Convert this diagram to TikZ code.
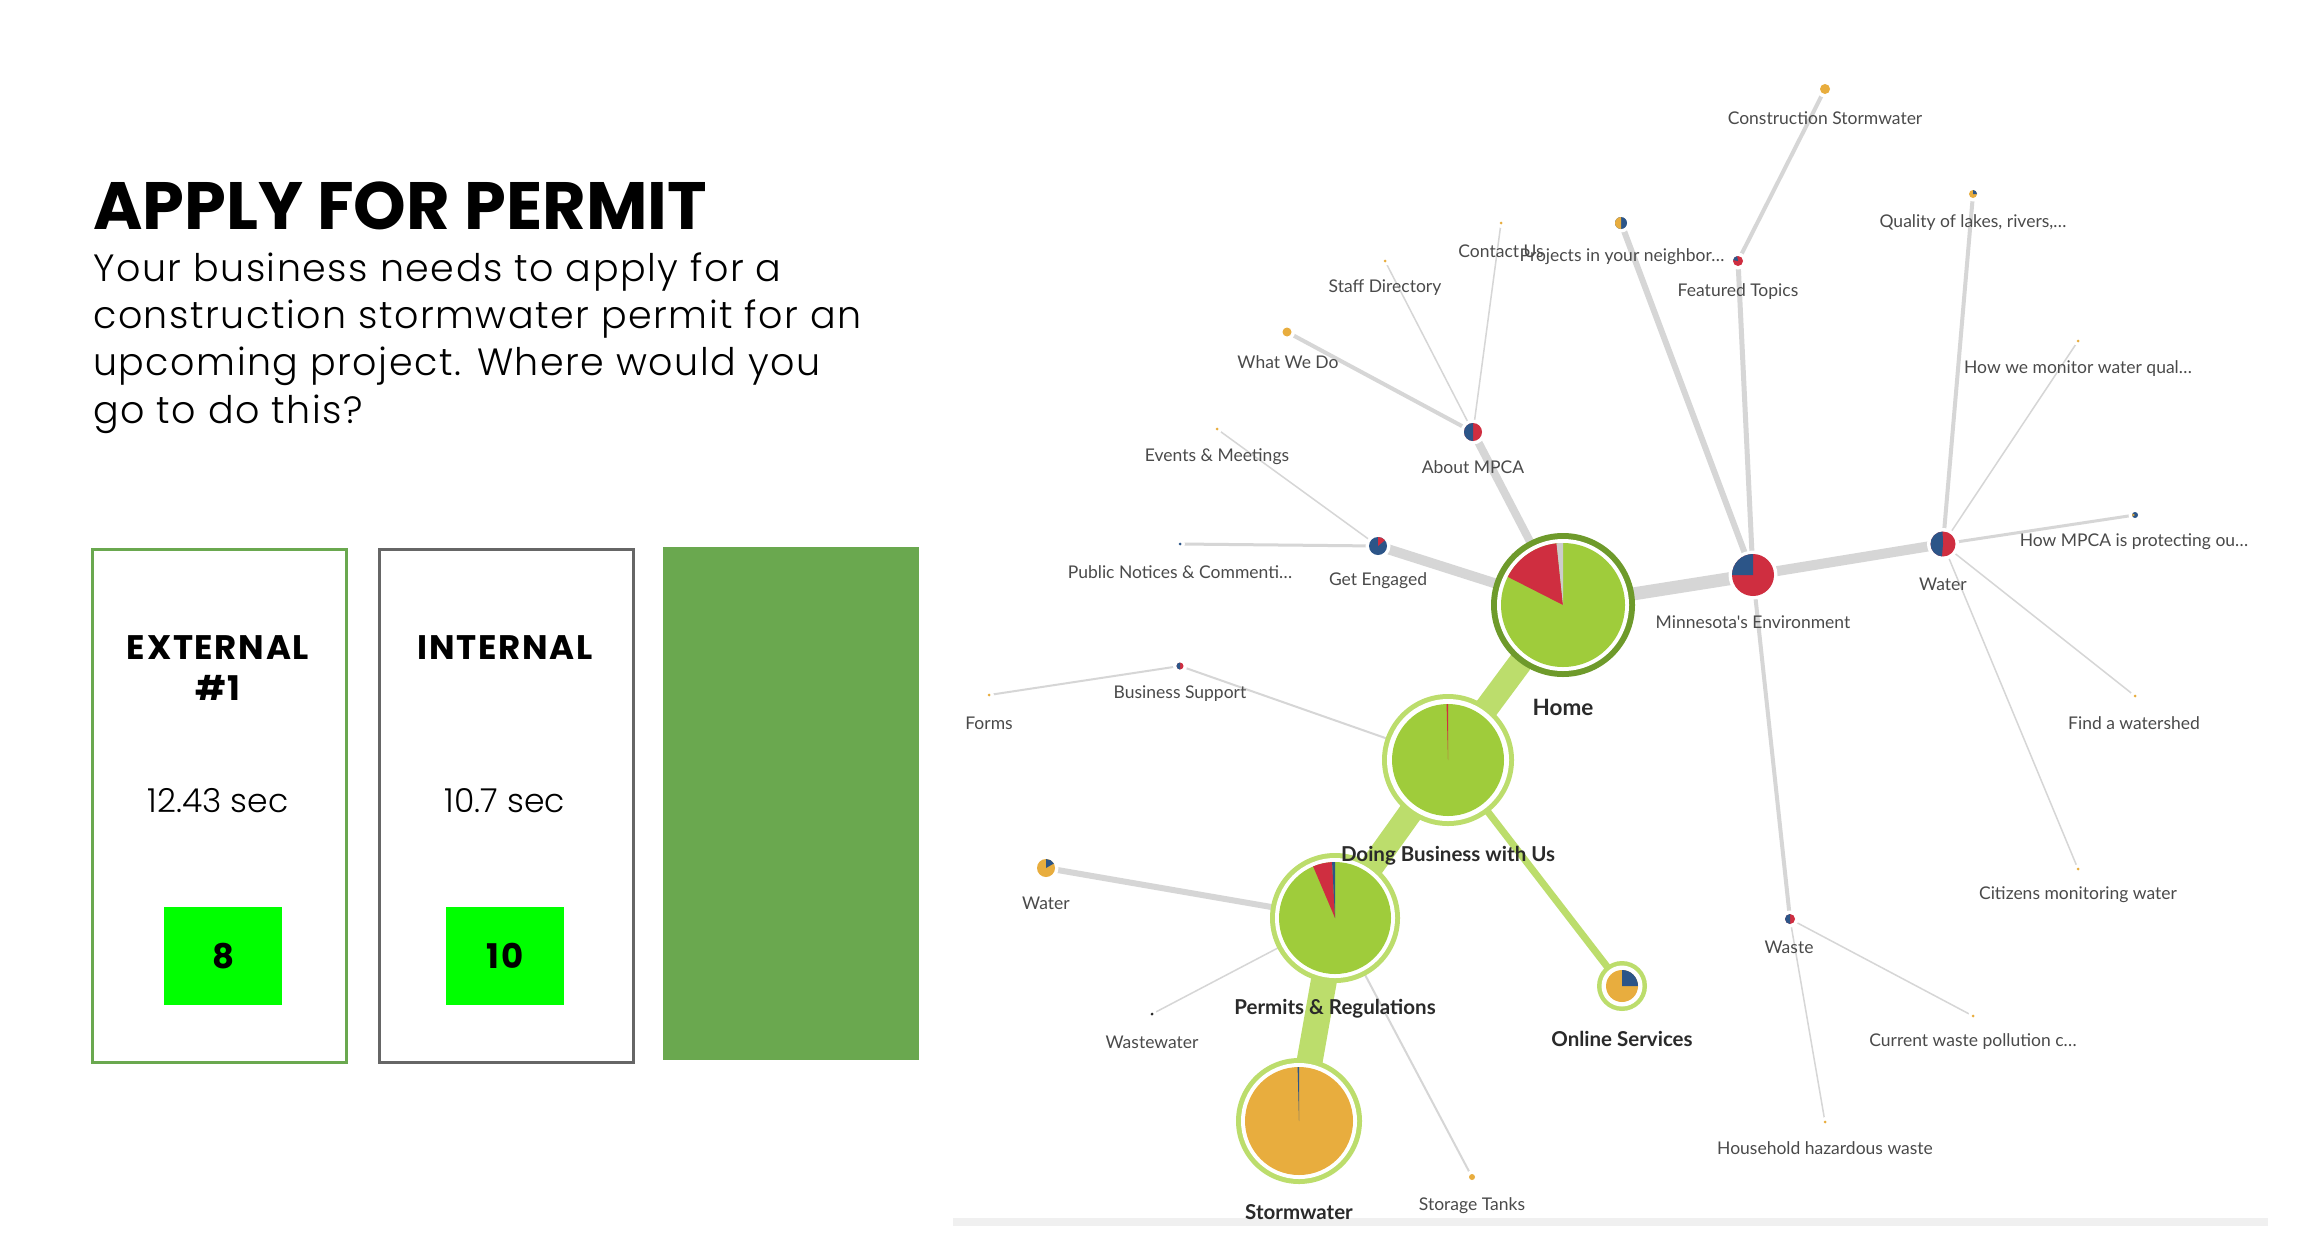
\documentclass[tikz,border=0pt]{standalone}
\usepackage{fontspec}
\setmainfont{Poppins}
\newfontfamily\lightfont{Poppins Light}
\newfontfamily\labfont{Lato}
\definecolor{boxgreen}{HTML}{6AA84F}
\definecolor{boxgray}{HTML}{666666}
\definecolor{limeg}{HTML}{00FF00}
\definecolor{pgreen}{HTML}{9FCC3B}
\definecolor{rgreen}{HTML}{BCDD6C}
\definecolor{dgreen}{HTML}{6E9A2B}
\definecolor{pred}{HTML}{CF2E40}
\definecolor{pblue}{HTML}{2C5588}
\definecolor{porange}{HTML}{E8AD3E}
\definecolor{egray}{HTML}{D6D6D6}
\definecolor{ltxt}{HTML}{4A4A4A}
\definecolor{btxt}{HTML}{2A2A2A}
\definecolor{pgray}{HTML}{CCCCCC}
\definecolor{framegray}{HTML}{F0F0F0}
\newcommand\pslice[5]{\fill[#5] (#1) -- ++(-#3:#2) arc[start angle=-#3, end angle=-#4, radius=#2] -- cycle;}
\newcommand\dotnode[3]{\fill[white] (#1) circle[radius=#2+3.5]; \fill[#3] (#1) circle[radius=#2];}
\newcommand\bignode[5]{\fill[#5] (#1) circle[radius=#2]; \fill[white] (#1) circle[radius=#3]; \fill[pgreen] (#1) circle[radius=#4];}
\tikzset{
  lbl/.style={font=\labfont\fontsize{17.5}{20}\selectfont, text=ltxt, inner sep=0},
  blbl/.style={font=\labfont\bfseries\fontsize{20.5}{24}\selectfont, text=btxt, inner sep=0},
  gedge/.style={draw=egray},
  grnedge/.style={draw=rgreen},
  boxtitle/.style={font=\bfseries\fontsize{34}{40}\selectfont\addfontfeature{LetterSpace=5}, inner sep=0},
  boxval/.style={font=\lightfont\fontsize{33}{36}\selectfont, inner sep=0},
  bodytxt/.style={font=\lightfont\fontsize{38}{47}\selectfont\addfontfeature{LetterSpace=4}, anchor=base west, inner sep=0}
}
\begin{document}
\begin{tikzpicture}[x=1pt,y=-1pt]
\useasboundingbox (0,0) rectangle (2317,1256);
\fill[white] (0,0) rectangle (2317,1256);

% ---------- left panel ----------
\node[anchor=base west, inner sep=0, font=\bfseries\fontsize{67}{70}\selectfont] (title) at (93,229) {APPLY FOR PERMIT};
\node[bodytxt] (b1) at (93,281) {Your business needs to apply for a};
\node[bodytxt] (b2) at (93,328) {construction stormwater permit for an};
\node[bodytxt] (b3) at (93,375) {upcoming project. Where would you};
\node[bodytxt] (b4) at (93,423) {go to do this?};

\node[draw=boxgreen, line width=2.5, minimum width=254, minimum height=513, anchor=north west, inner sep=0] (ext) at (91,548) {};
\node[draw=boxgray, line width=2.5, minimum width=254, minimum height=513, anchor=north west, inner sep=0] (int) at (378,548) {};
\node[fill=boxgreen, minimum width=256, minimum height=513, anchor=north west, inner sep=0] (third) at (663,547) {};

\node[boxtitle] (extt) at (218,648) {EXTERNAL};
\node[boxtitle] (ext1) at (218,688) {\#1};
\node[boxval] (extv) at (218,801) {12.43 sec};
\node[fill=limeg, minimum width=118, minimum height=98, anchor=north west, inner sep=0] (exts) at (164,907) {};
\node[boxtitle] (extn) at (exts.center) {8};

\node[boxtitle] (intt) at (505,648) {INTERNAL};
\node[boxval] (intv) at (505,801) {10.7 sec};
\node[fill=limeg, minimum width=118, minimum height=98, anchor=north west, inner sep=0] (ints) at (446,907) {};
\node[boxtitle] (intn) at (ints.center) {10};

% ---------- frame line ----------
\fill[framegray] (953,1218) rectangle (2268,1226);

% ---------- graph coordinates ----------
\coordinate (home) at (1563,605);
\coordinate (dbu) at (1448,760);
\coordinate (pr) at (1335,918);
\coordinate (sw) at (1299,1121);
\coordinate (os) at (1622,986);
\coordinate (mne) at (1753,575);
\coordinate (wtrR) at (1943,544);
\coordinate (amp) at (1473,432);
\coordinate (ge) at (1378,546);
\coordinate (pin) at (1621,223);
\coordinate (ft) at (1738,261);
\coordinate (cs) at (1825,89);
\coordinate (cu) at (1501,223);
\coordinate (sd) at (1385,261);
\coordinate (wwd) at (1287,332);
\coordinate (em) at (1217,429);
\coordinate (pn) at (1180,544);
\coordinate (bs) at (1180,666);
\coordinate (forms) at (989,695);
\coordinate (wtrL) at (1046,868);
\coordinate (ww) at (1152,1014);
\coordinate (st) at (1472,1177);
\coordinate (ql) at (1973,194);
\coordinate (hwm) at (2078,341);
\coordinate (hmp) at (2135,515);
\coordinate (fw) at (2135,696);
\coordinate (cmw) at (2078,869);
\coordinate (waste) at (1790,919);
\coordinate (cwp) at (1973,1016);
\coordinate (hhw) at (1825,1122);

% ---------- edges ----------
\draw[gedge, line width=13] (home) -- (mne);
\draw[gedge, line width=10] (mne) -- (wtrR);
\draw[gedge, line width=8] (home) -- (amp);
\draw[gedge, line width=10] (home) -- (ge);
\draw[gedge, line width=6] (mne) -- (pin);
\draw[gedge, line width=5] (mne) -- (ft);
\draw[gedge, line width=4] (ft) -- (cs);
\draw[gedge, line width=4] (mne) -- (waste);
\draw[gedge, line width=1.5] (waste) -- (cwp);
\draw[gedge, line width=1.5] (waste) -- (hhw);
\draw[gedge, line width=4] (wtrR) -- (ql);
\draw[gedge, line width=1.5] (wtrR) -- (hwm);
\draw[gedge, line width=3] (wtrR) -- (hmp);
\draw[gedge, line width=1.5] (wtrR) -- (fw);
\draw[gedge, line width=1.5] (wtrR) -- (cmw);
\draw[gedge, line width=4] (amp) -- (wwd);
\draw[gedge, line width=1.5] (amp) -- (sd);
\draw[gedge, line width=1.5] (amp) -- (cu);
\draw[gedge, line width=1.5] (ge) -- (em);
\draw[gedge, line width=3] (ge) -- (pn);
\draw[gedge, line width=2] (dbu) -- (bs);
\draw[gedge, line width=2] (bs) -- (forms);
\draw[gedge, line width=6] (pr) -- (wtrL);
\draw[gedge, line width=1.5] (pr) -- (ww);
\draw[gedge, line width=2] (pr) -- (st);
\draw[grnedge, line width=24] (home) -- (dbu);
\draw[grnedge, line width=24] (dbu) -- (pr);
\draw[grnedge, line width=26] (pr) -- (sw);
\draw[grnedge, line width=7] (dbu) -- (os);

% ---------- big nodes ----------
\bignode{home}{72}{66}{62}{dgreen}
\pslice{home}{62}{96}{153}{pred}
\pslice{home}{62}{90}{96}{pgray}
\bignode{dbu}{66}{61}{56}{rgreen}
\pslice{dbu}{56}{90}{91.5}{pred}
\bignode{pr}{65}{60}{56}{rgreen}
\pslice{pr}{56}{93}{113}{pred}
\pslice{pr}{56}{90}{93}{pblue}
\fill[rgreen] (sw) circle[radius=63]; \fill[white] (sw) circle[radius=58]; \fill[porange] (sw) circle[radius=54];
\pslice{sw}{54}{90}{91.5}{pblue}
\fill[rgreen] (os) circle[radius=25]; \fill[white] (os) circle[radius=20.5]; \fill[porange] (os) circle[radius=16];
\pslice{os}{16}{0}{90}{pblue}

% ---------- small nodes ----------
\dotnode{mne}{21}{pred}  \pslice{mne}{21}{90}{180}{pblue}
\dotnode{wtrR}{12.5}{pred} \pslice{wtrR}{12.5}{92}{265}{pblue}
\dotnode{amp}{9}{pred} \pslice{amp}{9}{90}{270}{pblue}
\dotnode{ge}{9}{pblue} \pslice{ge}{9}{40}{90}{pred}
\dotnode{pin}{6}{pblue} \pslice{pin}{6}{90}{270}{porange}
\dotnode{ft}{5}{pred} \pslice{ft}{5}{100}{170}{pblue}
\dotnode{cs}{5}{porange}
\dotnode{cu}{1.5}{porange}
\dotnode{sd}{1.5}{porange}
\dotnode{wwd}{4.5}{porange}
\dotnode{em}{1.5}{porange}
\dotnode{pn}{1.5}{pblue}
\dotnode{bs}{3.5}{pred} \pslice{bs}{3.5}{90}{270}{pblue}
\dotnode{forms}{1.5}{porange}
\dotnode{wtrL}{9}{porange} \pslice{wtrL}{9}{30}{90}{pblue}
\dotnode{ww}{1.5}{btxt}
\dotnode{st}{3}{porange}
\dotnode{ql}{4}{porange} \pslice{ql}{4}{0}{90}{pblue}
\dotnode{hwm}{1.5}{porange}
\dotnode{hmp}{3}{pblue} \pslice{hmp}{3}{150}{210}{porange}
\dotnode{fw}{1.5}{porange}
\dotnode{cmw}{1.5}{porange}
\dotnode{waste}{5}{pred} \pslice{waste}{5}{90}{270}{pblue}
\dotnode{cwp}{1.5}{porange}
\dotnode{hhw}{1.5}{porange}

% ---------- labels ----------
\node[blbl, font=\labfont\bfseries\fontsize{22.5}{26}\selectfont] (lhome) at (1563,707) {Home};
\node[blbl] (ldbu) at (1448,856) {Doing Business with Us};
\node[blbl] (lpr) at (1335,1009) {Permits \& Regulations};
\node[blbl] (los) at (1622,1039) {Online Services};
\node[blbl] (lsw) at (1299,1212) {Stormwater};
\node[lbl] (lst) at (1472,1206) {Storage Tanks};
\node[lbl] (lcs) at (1825,118) {Construction Stormwater};
\node[lbl] (lft) at (1738,292) {Featured Topics};
\node[lbl] (lcu) at (1501,251) {Contact Us};
\node[lbl] (lpin) at (1622,257) {Projects in your neighbor…};
\node[lbl] (lsd) at (1385,288) {Staff Directory};
\node[lbl] (lwwd) at (1288,362) {What We Do};
\node[lbl] (lamp) at (1473,467) {About MPCA};
\node[lbl] (lem) at (1217,457) {Events \& Meetings};
\node[lbl] (lge) at (1378,581) {Get Engaged};
\node[lbl] (lpn) at (1180,572) {Public Notices \& Commenti…};
\node[lbl] (lbs) at (1180,694) {Business Support};
\node[lbl] (lforms) at (989,723) {Forms};
\node[lbl] (lwtrL) at (1046,903) {Water};
\node[lbl] (lww) at (1152,1042) {Wastewater};
\node[lbl] (lmne) at (1753,622) {Minnesota's Environment};
\node[lbl] (lwtrR) at (1943,584) {Water};
\node[lbl] (lhmp) at (2134,542) {How MPCA is protecting ou…};
\node[lbl] (lfw) at (2134,723) {Find a watershed};
\node[lbl] (lcmw) at (2078,895) {Citizens monitoring water};
\node[lbl] (lwaste) at (1789,947) {Waste};
\node[lbl] (lcwp) at (1973,1042) {Current waste pollution c…};
\node[lbl] (lhhw) at (1825,1148) {Household hazardous waste};
\node[lbl] (lql) at (1973,223) {Quality of lakes, rivers,…};
\node[lbl] (lhwm) at (2078,369) {How we monitor water qual…};
\end{tikzpicture}
\end{document}
